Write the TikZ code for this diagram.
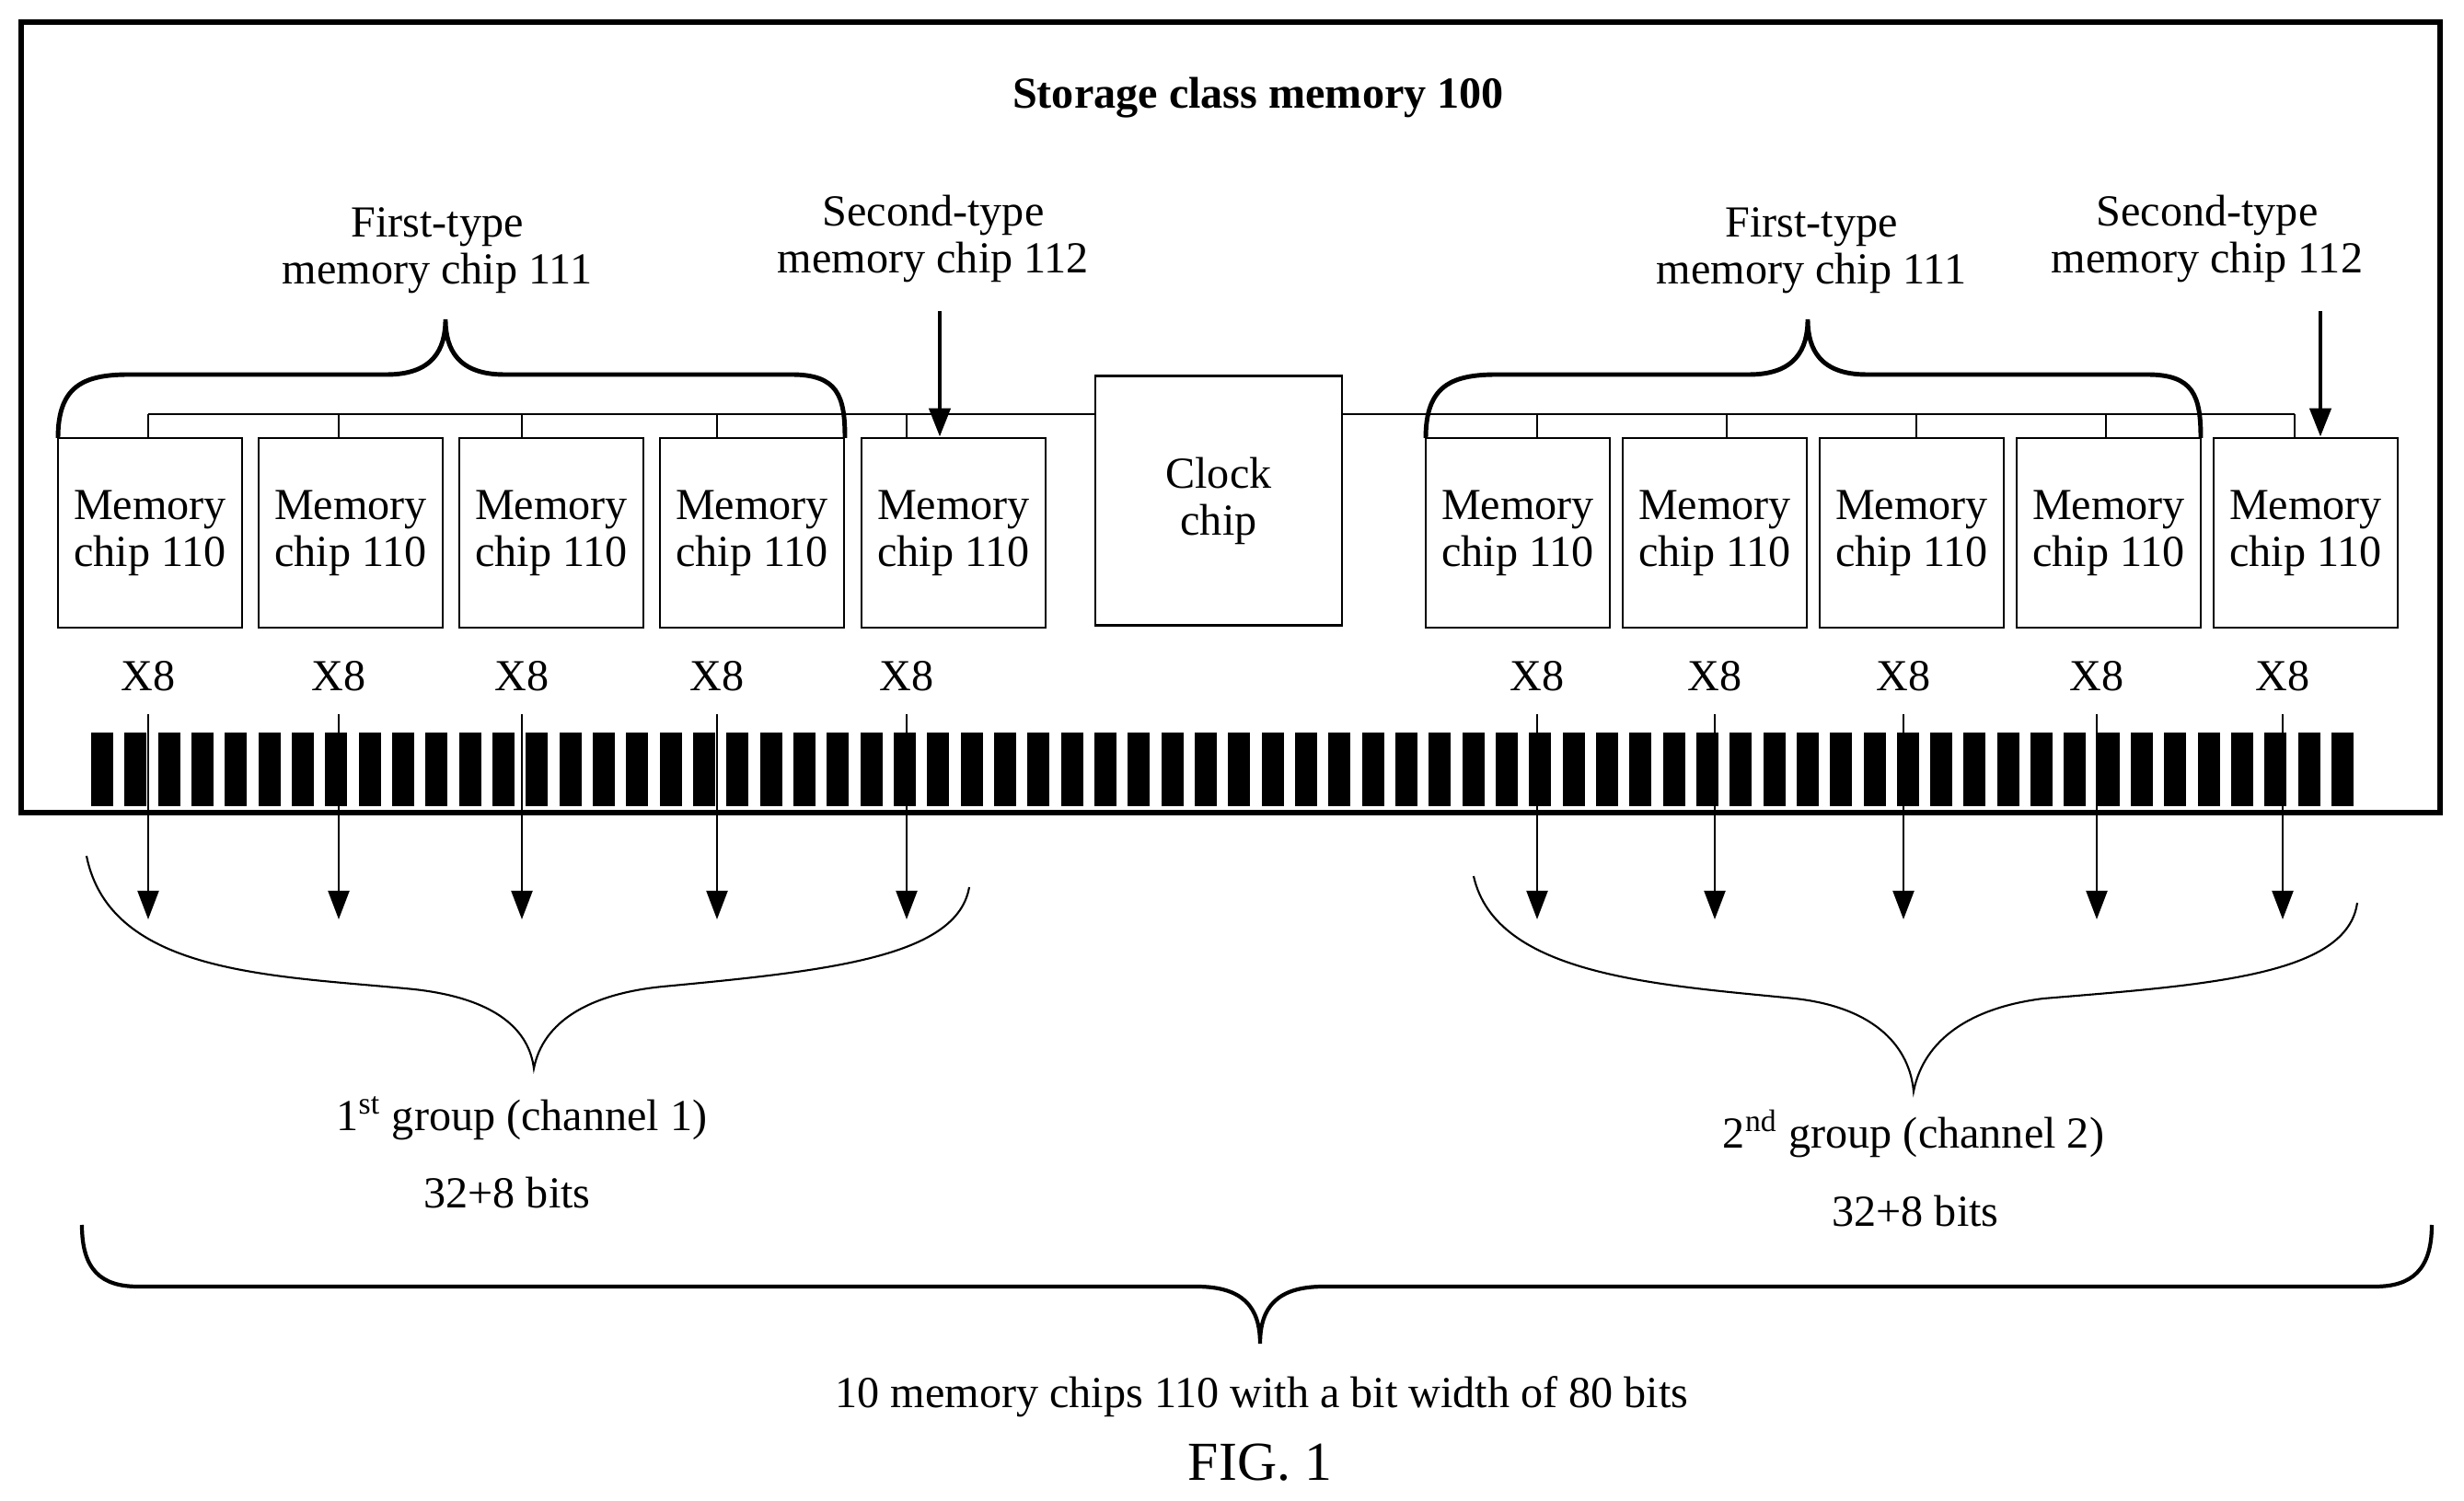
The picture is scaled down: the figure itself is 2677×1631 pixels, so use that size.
\documentclass[tikz,border=0pt]{standalone}
\usepackage{fontspec}
\setmainfont{Liberation Serif}
\usetikzlibrary{arrows.meta,positioning}

\tikzset{
	chip/.style={draw, line width=0.8pt, minimum width=2cm, minimum height=2.06cm, align=center, inner sep=0pt},
	lbl/.style={align=center, inner sep=0pt},
	bus/.style={line width=0.6pt},
	brace/.style={line width=1.4pt},
	thinbrace/.style={line width=0.6pt},
	data/.style={line width=0.6pt, -{Triangle[length=3.1mm,width=2.3mm]}},
	point/.style={line width=1.3pt, -{Triangle[length=3.1mm,width=2.3mm]}}
}

\begin{document}
\begin{tikzpicture}[x=0.01cm, y=-0.01cm, font=\fontsize{13.7}{14.5}\selectfont]

		\useasboundingbox (0,0) rectangle (2677,1631);

		% Define the module and its title
		\node[draw, line width=1.7pt, minimum width=26.26cm, minimum height=8.59cm, inner sep=0pt] (scm) at (1337,453.5) {};
		\node[lbl, font=\fontsize{13.7}{14.5}\selectfont\bfseries] (title) at (1367,106) {Storage class memory 100};

		% Define the nodes
		\node[chip] (chipA) at (163,579) {Memory\\chip 110};
		\node[chip] (chipB) at (381,579) {Memory\\chip 110};
		\node[chip] (chipC) at (599,579) {Memory\\chip 110};
		\node[chip] (chipD) at (817,579) {Memory\\chip 110};
		\node[chip] (chipE) at (1036,579) {Memory\\chip 110};
		\node[chip, minimum width=2.68cm, minimum height=2.71cm] (clock) at (1324,544) {Clock\\chip};
		\node[chip] (chipF) at (1649,579) {Memory\\chip 110};
		\node[chip] (chipG) at (1863,579) {Memory\\chip 110};
		\node[chip] (chipH) at (2077,579) {Memory\\chip 110};
		\node[chip] (chipI) at (2291,579) {Memory\\chip 110};
		\node[chip] (chipJ) at (2505,579) {Memory\\chip 110};

		% Define the labels above
		\node[lbl] (first_left) at (475,272) {First-type\\memory chip 111};
		\node[lbl] (second_left) at (1014,259) {Second-type\\memory chip 112};
		\node[lbl] (first_right) at (1968,272) {First-type\\memory chip 111};
		\node[lbl] (second_right) at (2398,259) {Second-type\\memory chip 112};

		% Define the bus taps
		\coordinate (tapA) at (161,450);
		\coordinate (tapB) at (368,450);
		\coordinate (tapC) at (567,450);
		\coordinate (tapD) at (779,450);
		\coordinate (tapE) at (985,450);
		\coordinate (tapF) at (1670,450);
		\coordinate (tapG) at (1876,450);
		\coordinate (tapH) at (2082,450);
		\coordinate (tapI) at (2288,450);
		\coordinate (tapJ) at (2493,450);

		% Define the edges
		\draw[bus] (tapA) -- (tapA -| clock.west);
		\draw[bus] (tapJ) -- (tapJ -| clock.east);
		\foreach \t/\c in {A/chipA,B/chipB,C/chipC,D/chipD,E/chipE,F/chipF,G/chipG,H/chipH,I/chipI,J/chipJ}
			\draw[bus] (tap\t) -- (tap\t |- \c.north);

		% Pointers to the second-type chips
		\coordinate (ptrL) at (1021,338);
		\coordinate (ptrR) at (2521,338);
		\draw[point] (ptrL) -- (ptrL |- chipE.north);
		\draw[point] (ptrR) -- (ptrR |- chipJ.north);

		% Braces over the first-type chips
		\draw[brace] (63,476) .. controls (63,420) and (90,407) .. (140,407) -- (420,407) .. controls (470,407) and (484,380) .. (484,347)
			.. controls (484,380) and (498,407) .. (548,407) -- (860,407) .. controls (910,407) and (918,430) .. (918,476);
		\draw[brace] (1549,476) .. controls (1549,420) and (1576,407) .. (1626,407) -- (1900,407) .. controls (1950,407) and (1964,380) .. (1964,347)
			.. controls (1964,380) and (1978,407) .. (2028,407) -- (2333,407) .. controls (2383,407) and (2391,430) .. (2391,476);

		% Edge connector
		\foreach \i in {0,...,67}
			\fill (99+\i*36.33,796) rectangle ++(24,80);

		% Data lines with widths
		\foreach \x/\n in {161/a,368/b,567/c,779/d,985/e,1670/f,1863/g,2068/h,2278/i,2480/j} {
			\node[lbl] (w\n) at (\x,735) {X8};
			\coordinate (top\n) at (\x,776);
			\coordinate (end\n) at (\x,999);
			\draw[data] (top\n) -- (end\n);
		}

		% Group braces
		\draw[thinbrace] (94,930) .. controls (120,1060) and (300,1060) .. (450,1075) .. controls (540,1085) and (575,1120) .. (580,1161)
			.. controls (590,1110) and (640,1080) .. (720,1072) .. controls (900,1055) and (1040,1040) .. (1053,964);
		\draw[thinbrace] (1601,952) .. controls (1625,1060) and (1800,1070) .. (1950,1085) .. controls (2040,1095) and (2075,1140) .. (2079,1186)
			.. controls (2090,1130) and (2140,1095) .. (2220,1085) .. controls (2400,1070) and (2550,1060) .. (2561,981);
		\draw[brace, line width=1.2pt] (89,1331) .. controls (89,1380) and (110,1398) .. (150,1398) -- (1300,1398) .. controls (1350,1398) and (1369,1420) .. (1369,1460)
			.. controls (1369,1420) and (1388,1398) .. (1438,1398) -- (2580,1398) .. controls (2620,1398) and (2642,1380) .. (2642,1331);

		% Group labels
		\node[lbl] (group1) at (567,1215) {1\textsuperscript{st} group (channel 1)};
		\node[lbl] (bits1) at (551,1296) {32+8 bits};
		\node[lbl] (group2) at (2079,1232) {2\textsuperscript{nd} group (channel 2)};
		\node[lbl] (bits2) at (2081,1316) {32+8 bits};
		\node[lbl] (total) at (1371,1518) {10 memory chips 110 with a bit width of 80 bits};
		\node[lbl, font=\fontsize{17}{18}\selectfont] (fig) at (1369,1589) {FIG. 1};

	\end{tikzpicture}
\end{document}
